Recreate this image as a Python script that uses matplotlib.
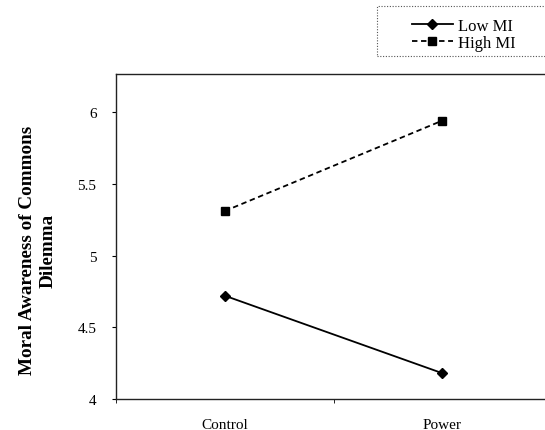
import numpy as np
import matplotlib
matplotlib.use("Agg")
import matplotlib.pyplot as plt
from matplotlib.patches import Rectangle

# data
conditions = ["Control", "Power"]
low_mi = [4.72, 4.18]
high_mi = [5.31, 5.94]
series_names = ["Low MI", "High MI"]
y_ticks = [4, 4.5, 5, 5.5, 6]
y_tick_labels = ["4", "4.5", "5", "5.5", "6"]

plt.rcParams["font.family"] = ["Liberation Serif", "DejaVu Serif"]

W, H = 545, 431
fig = plt.figure(figsize=(W / 100, H / 100), dpi=100)
# plot area: left edge at x=116, top at y=75, bottom at y=400, right runs off the image
ax = fig.add_axes([116 / W, 1 - 400 / H, (551 - 116) / W, (400 - 75) / H])

x = np.arange(len(conditions))
ax.plot(x, low_mi, color="black", lw=1.3, marker="D", ms=5, label=series_names[0])
ax.plot(x, high_mi, color="black", lw=1.3, ls=(0, (3, 2)), marker="s", ms=6,
        label=series_names[1])

ax.set_xlim(-0.5, 1.5)
ax.set_ylim(4, 6.265)

ax.set_yticks(y_ticks)
ax.set_yticklabels(y_tick_labels)
ax.set_xticks(x)
ax.set_xticklabels(conditions)
ax.set_xticks([-0.5, 0.5, 1.5], minor=True)
ax.tick_params(axis="x", which="major", length=0, pad=14, labelsize=11)
ax.tick_params(axis="x", which="minor", length=3, direction="out")
ax.tick_params(axis="y", length=3, direction="out", pad=11, labelsize=11)

for side in ["left", "top", "bottom"]:
    ax.spines[side].set_color("#222222")
    ax.spines[side].set_linewidth(1.0)
ax.spines["right"].set_visible(False)

ax.set_ylabel("Moral Awareness of Commons\nDilemma", fontsize=13.8, fontweight="bold",
              linespacing=1.3)
ax.yaxis.set_label_coords(-0.137, 0.46)

# legend box (dotted frame) in the top right corner
handles, labels = ax.get_legend_handles_labels()
fig.legend(handles, labels, loc="upper left", bbox_to_anchor=(400 / W, 1 - 7 / H),
           frameon=False, fontsize=12, handlelength=2.5, handletextpad=0.3,
           labelspacing=0.08, borderpad=0.2)
fig.patches.append(Rectangle((377 / W, 1 - 57 / H), (560 - 377) / W, 50 / H,
                             transform=fig.transFigure, fill=False, lw=0.8,
                             ls=(0, (1, 1.5)), edgecolor="#555555"))

fig.savefig("out.png", dpi=100)
